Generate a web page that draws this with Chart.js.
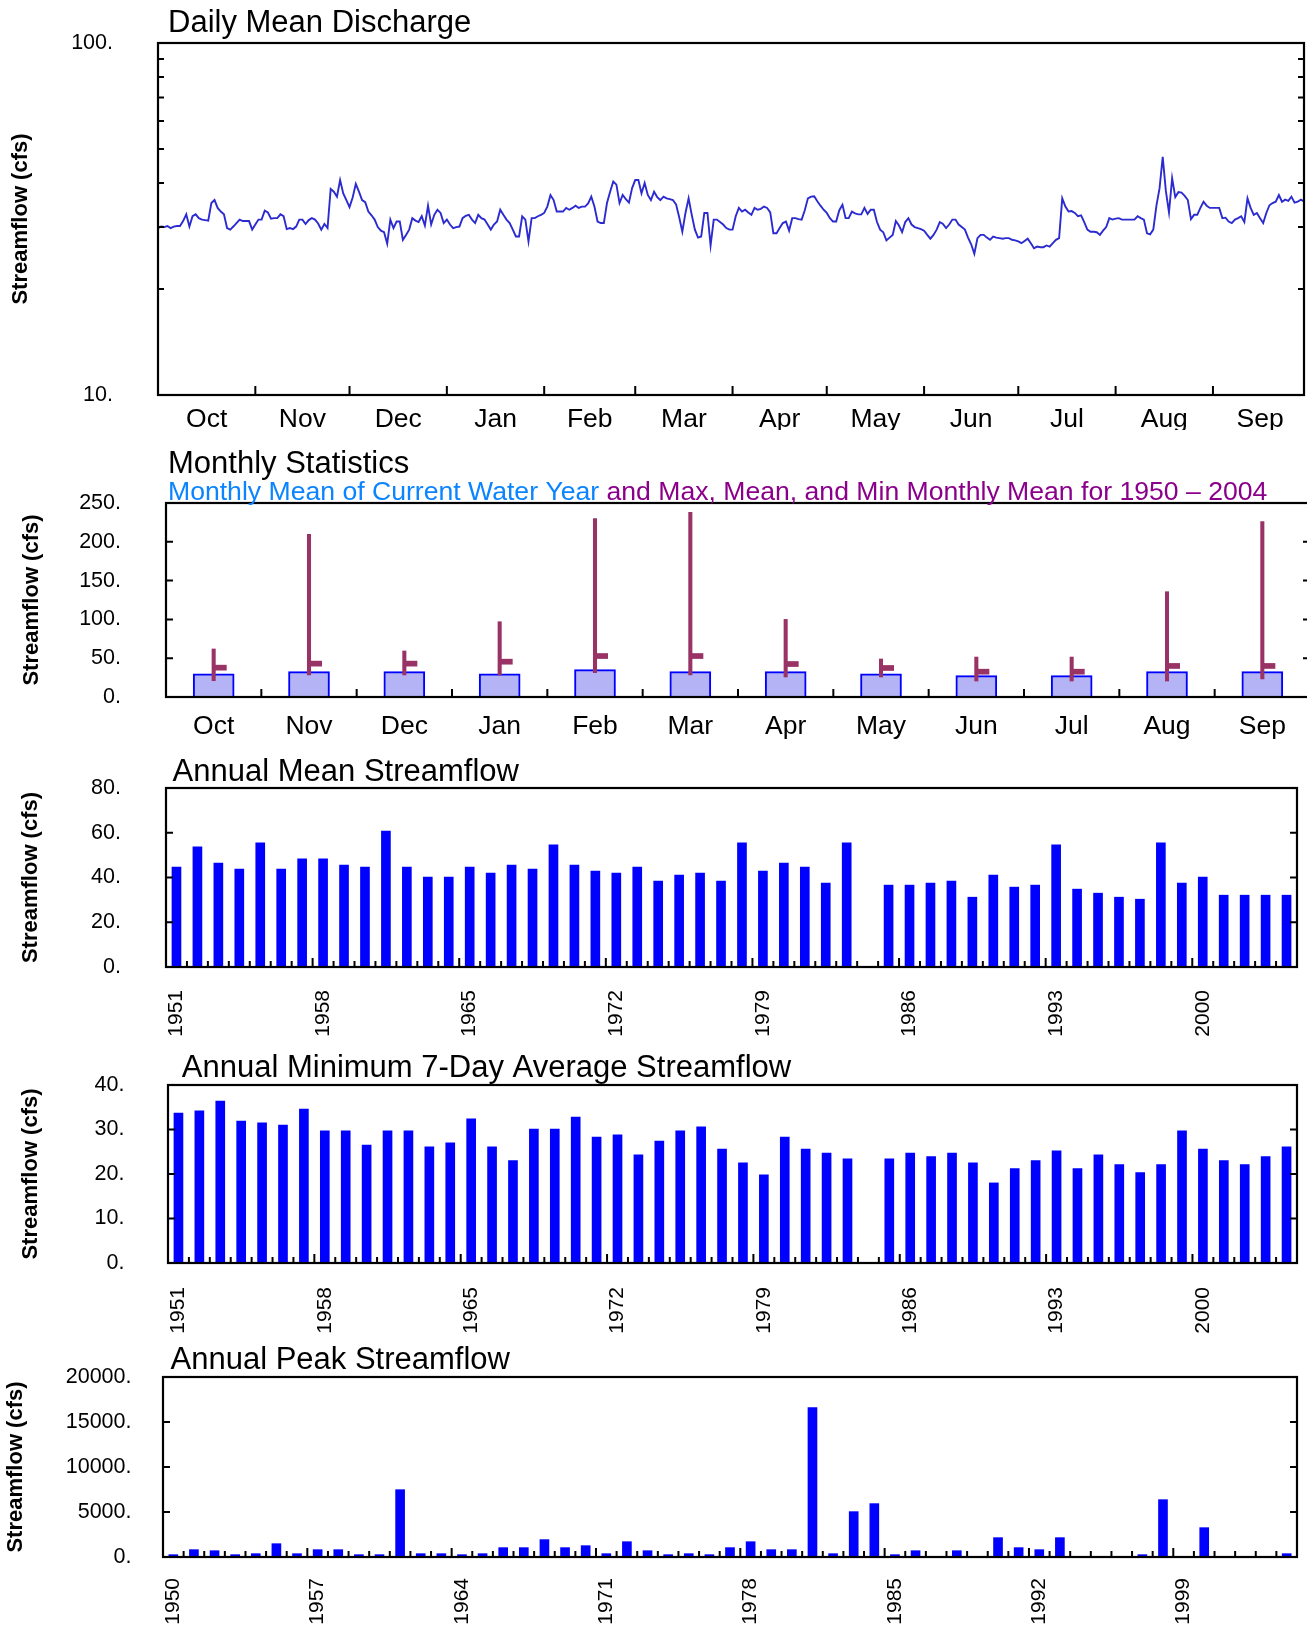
<!DOCTYPE html>
<html>
<head>
<meta charset="utf-8">
<script src="https://cdn.jsdelivr.net/npm/chart.js@4.4.1/dist/chart.umd.min.js"></script>
<style>
html, body { margin: 0; padding: 0; background: #ffffff; overflow: hidden; width: 1307px; height: 1626px; }
canvas { position: absolute; left: 0; }
</style>
</head>
<body>
<canvas id="c1" width="1307" height="430" style="top:0px"></canvas>
<canvas id="c2" width="1316" height="315" style="top:430px"></canvas>
<canvas id="c3" width="1307" height="295" style="top:745px"></canvas>
<canvas id="c4" width="1307" height="295" style="top:1040px"></canvas>
<canvas id="c5" width="1307" height="291" style="top:1335px"></canvas>
<script>
// ---------------- DATA ----------------
const months = ['Oct','Nov','Dec','Jan','Feb','Mar','Apr','May','Jun','Jul','Aug','Sep'];
const monthDays = [31,30,31,31,29,31,30,31,30,31,31,30];

const dailyMajorTicks = [10, 100];
const dailyMinorTicks = [20, 30, 40, 50, 60, 70, 80, 90];
const dailyMeanFlow = [
  29.8, 30.1, 30.0, 30.2, 29.8, 30.1, 30.2, 30.2, 31.2, 32.6,
  30.1, 32.2, 32.6, 31.8, 31.5, 31.4, 31.3, 35.1, 35.8, 34.0,
  33.2, 32.6, 29.8, 29.5, 30.1, 30.8, 31.5, 31.2, 31.2, 31.2,
  29.5, 30.5, 31.5, 31.5, 33.4, 33.0, 31.7, 31.8, 31.8, 32.6,
  32.2, 29.6, 29.8, 29.6, 30.1, 31.5, 31.5, 30.6, 31.4, 31.8,
  31.5, 30.7, 29.5, 30.6, 29.8, 38.5, 37.8, 36.6, 40.8, 37.4,
  35.8, 34.2, 36.4, 39.8, 37.8, 35.8, 35.3, 33.2, 32.4, 31.5,
  30.0, 29.3, 29.0, 26.9, 31.5, 29.8, 31.1, 31.1, 27.6, 28.5,
  29.5, 31.8, 31.3, 31.0, 32.2, 30.3, 34.5, 30.5, 32.5, 33.6,
  32.9, 30.8, 31.5, 30.5, 29.8, 30.0, 30.1, 31.8, 32.3, 32.5,
  31.5, 30.8, 32.5, 31.8, 31.5, 30.5, 29.5, 30.5, 31.1, 33.6,
  32.5, 31.5, 30.8, 29.5, 28.2, 28.2, 32.2, 31.5, 27.3, 31.8,
  31.8, 32.2, 32.5, 32.9, 34.3, 37.0, 35.8, 33.2, 33.2, 33.2,
  34.0, 33.6, 34.0, 34.5, 34.0, 34.3, 34.3, 35.0, 36.6, 34.3,
  31.1, 30.8, 30.8, 35.1, 37.8, 40.4, 39.6, 35.1, 37.0, 36.0,
  35.2, 38.7, 40.8, 40.8, 37.4, 40.0, 37.0, 35.8, 37.8, 36.5,
  35.8, 36.6, 36.2, 36.0, 35.8, 34.8, 32.0, 29.1, 32.9, 36.2,
  32.5, 29.5, 28.0, 28.2, 32.9, 32.9, 26.6, 31.5, 31.5, 31.0,
  30.5, 29.8, 29.5, 29.5, 32.2, 34.0, 33.2, 33.6, 33.0, 32.5,
  34.0, 33.6, 33.8, 34.3, 34.0, 33.0, 28.8, 28.8, 29.8, 30.8,
  31.1, 29.3, 31.8, 31.8, 31.6, 31.5, 33.5, 36.2, 36.6, 36.7,
  35.5, 34.5, 33.6, 32.9, 31.8, 31.1, 31.1, 33.5, 34.7, 31.8,
  31.8, 33.2, 32.8, 32.6, 32.6, 34.0, 32.7, 33.6, 33.6, 31.0,
  29.5, 29.0, 27.5, 28.0, 28.5, 31.2, 30.3, 29.0, 31.0, 31.8,
  30.5, 30.0, 29.8, 29.6, 29.3, 28.5, 27.8, 28.5, 29.5, 31.0,
  30.6, 29.8, 30.5, 31.5, 31.5, 30.5, 30.0, 29.5, 28.0, 26.8,
  25.2, 27.9, 28.5, 28.5, 28.0, 27.6, 28.2, 28.0, 27.9, 27.8,
  27.9, 27.9, 27.6, 27.5, 27.3, 27.0, 27.4, 27.8, 27.0, 26.1,
  26.4, 26.3, 26.3, 26.6, 26.4, 27.0, 27.6, 27.9, 36.2, 34.3,
  33.2, 33.3, 32.9, 32.2, 32.4, 31.0, 29.5, 29.1, 29.1, 29.0,
  28.5, 29.3, 30.0, 31.8, 31.5, 31.7, 31.8, 31.5, 31.5, 31.5,
  31.5, 31.5, 32.2, 31.8, 31.5, 28.8, 28.6, 29.5, 34.5, 38.7,
  47.5, 38.0, 33.0, 41.3, 36.5, 37.7, 37.6, 36.8, 35.8, 31.6,
  32.5, 32.5, 34.0, 35.4, 34.5, 34.0, 34.0, 34.0, 34.0, 31.8,
  31.9, 31.1, 30.8, 31.5, 31.8, 32.2, 31.0, 36.2, 34.0, 32.5,
  32.9, 31.8, 30.8, 32.9, 34.6, 35.1, 35.4, 37.0, 35.4, 35.9,
  35.6, 36.6, 35.2, 35.4, 35.9, 35.5
];

const monthlyCurrent = [30.0, 32.6, 32.6, 30.0, 35.2, 32.6, 32.6, 30.0, 27.5, 27.5, 32.6, 32.6];
const monthlyMax     = [61.9, 209.7, 59.3, 97.0, 230.0, 238.0, 100.0, 49.0, 51.5, 51.5, 135.7, 226.0];
const monthlyMean    = [37.8, 43.0, 43.0, 45.5, 52.8, 52.8, 42.5, 37.4, 32.6, 32.6, 40.0, 40.0];
const monthlyMin     = [21.0, 28.4, 28.4, 28.4, 31.3, 28.4, 25.8, 25.8, 20.6, 20.6, 20.6, 23.2];
const monthlyTickValues = [50, 100, 150, 200];

const annualYears = ['1951','1952','1953','1954','1955','1956','1957','1958','1959','1960',
  '1961','1962','1963','1964','1965','1966','1967','1968','1969','1970',
  '1971','1972','1973','1974','1975','1976','1977','1978','1979','1980',
  '1981','1982','1983','1984','1985','1986','1987','1988','1989','1990',
  '1991','1992','1993','1994','1995','1996','1997','1998','1999','2000',
  '2001','2002','2003','2004'];
const annualTickYears = ['1951','1958','1965','1972','1979','1986','1993','2000'];
const annualMean = [44.7, 53.7, 46.5, 43.8, 55.5, 43.8, 48.3, 48.3, 45.6, 44.7,
  60.8, 44.7, 40.2, 40.2, 44.7, 42.0, 45.6, 43.8, 54.6, 45.6,
  42.9, 42.0, 44.7, 38.4, 41.1, 42.0, 38.4, 55.5, 42.9, 46.5,
  44.7, 37.5, 55.5, null, 36.6, 36.6, 37.5, 38.4, 31.2, 41.1,
  35.7, 36.6, 54.6, 34.8, 33.0, 31.2, 30.3, 55.5, 37.5, 40.2,
  32.1, 32.1, 32.1, 32.1];
const min7Day = [33.7, 34.2, 36.4, 31.9, 31.5, 31.0, 34.6, 29.7, 29.7, 26.5,
  29.7, 29.7, 26.1, 27.0, 32.4, 26.1, 23.0, 30.1, 30.1, 32.8,
  28.3, 28.8, 24.3, 27.4, 29.7, 30.6, 25.6, 22.5, 19.8, 28.3,
  25.6, 24.7, 23.4, null, 23.4, 24.7, 23.9, 24.7, 22.5, 18.0,
  21.2, 23.0, 25.2, 21.2, 24.3, 22.1, 20.3, 22.1, 29.7, 25.6,
  23.0, 22.1, 23.9, 26.1];

const peakYears = ['1950','1951','1952','1953','1954','1955','1956','1957','1958','1959',
  '1960','1961','1962','1963','1964','1965','1966','1967','1968','1969',
  '1970','1971','1972','1973','1974','1975','1976','1977','1978','1979',
  '1980','1981','1982','1983','1984','1985','1986','1987','1988','1989',
  '1990','1991','1992','1993','1994','1995','1996','1997','1998','1999',
  '2000','2001','2002','2003','2004'];
const peakTickYears = ['1950','1957','1964','1971','1978','1985','1992','1999'];
const peakFlow = [260, 815, 700, 260, 370, 1480, 370, 815, 815, 260,
  260, 7480, 370, 370, 260, 370, 1040, 1040, 1930, 1040,
  1260, 370, 1700, 700, 260, 370, 260, 1040, 1700, 815,
  815, 16600, 370, 5040, 5930, 260, 700, null, 700, null,
  2150, 1040, 815, 2150, null, null, null, 260, 6370, null,
  3260, null, null, null, 370];

// ---------------- HELPERS ----------------
const FONT = "'Liberation Sans', Arial, Helvetica, sans-serif";
Chart.defaults.font.family = FONT;
Chart.defaults.color = '#000';

// cumulative month boundaries & mid points (day index)
const monthEdges = [];
const monthMid = [];
{ let acc = 0; monthDays.forEach((d, i) => { monthMid.push(acc + d / 2); acc += d; if (i < monthDays.length - 1) monthEdges.push(acc); }); }

const framePlugin = {
  id: 'frame',
  afterDatasetsDraw(chart, args, o) {
    const ctx = chart.ctx, a = chart.chartArea, xs = chart.scales.x, ys = chart.scales.y;
    ctx.save();
    if (o.flags) {
      ctx.fillStyle = o.flags.color;
      o.flags.values.forEach((v, i) => {
        const px = xs.getPixelForValue(i), py = ys.getPixelForValue(v);
        ctx.fillRect(px, py - o.flags.h / 2, o.flags.w, o.flags.h);
      });
    }
    ctx.strokeStyle = '#000';
    ctx.lineWidth = 2;
    ctx.beginPath();
    (o.yTicks || []).forEach(v => {
      const py = ys.getPixelForValue(v);
      ctx.moveTo(a.left, py); ctx.lineTo(a.left + o.yLen, py);
      ctx.moveTo(a.right, py); ctx.lineTo(a.right - o.yLen, py);
    });
    (o.xTicks || []).forEach(t => {
      const px = xs.getPixelForValue(t.v);
      ctx.moveTo(px, a.bottom); ctx.lineTo(px, a.bottom - t.len);
    });
    ctx.stroke();
    ctx.lineWidth = 2.2;
    ctx.strokeRect(a.left, a.top, a.right - a.left, a.bottom - a.top);
    if (o.title) {
      ctx.fillStyle = '#000';
      ctx.font = o.title.size + 'px ' + FONT;
      ctx.textBaseline = 'alphabetic';
      ctx.textAlign = 'left';
      ctx.fillText(o.title.text, o.title.x, o.title.y);
    }
    if (o.subtitle) {
      ctx.font = o.subtitle.size + 'px ' + FONT;
      ctx.textBaseline = 'alphabetic';
      ctx.textAlign = 'left';
      let x = o.subtitle.x;
      o.subtitle.parts.forEach(p => {
        ctx.fillStyle = p.color;
        ctx.fillText(p.text, x, o.subtitle.y);
        x += ctx.measureText(p.text + ' ').width;
      });
    }
    ctx.restore();
  }
};

function yTitle(pad) {
  return { display: true, text: 'Streamflow (cfs)', color: '#000',
           font: { family: FONT, size: 22, weight: 'bold' }, padding: { top: pad, bottom: 0 } };
}
function fixY(w) {
  return s => { s.width = w; s.paddingTop = 0; s.paddingBottom = 0; };
}
function fixX(h) {
  return s => { s.height = h; s.paddingLeft = 0; s.paddingRight = 0; };
}
const noGrid = { display: false, drawTicks: false };
const noBorder = { display: false };
const base = { responsive: false, animation: false, devicePixelRatio: 1, maintainAspectRatio: false };

function yearTicks(list, ticked) {
  const out = [];
  for (let i = 1; i < list.length; i++) {
    out.push({ v: i - 0.5, len: ticked.includes(list[i]) ? 9 : 6 });
  }
  return out;
}

// ---------------- PANEL 1: Daily Mean Discharge ----------------
new Chart(document.getElementById('c1'), {
  type: 'line',
  data: { datasets: [{
    data: dailyMeanFlow.map((v, i) => ({ x: i, y: v })),
    borderColor: '#2b2bd0', borderWidth: 1.9, pointRadius: 0, tension: 0, fill: false
  }] },
  options: Object.assign({}, base, {
    layout: { padding: { left: 0, right: 3, top: 43, bottom: 0 } },
    plugins: {
      legend: { display: false }, tooltip: { enabled: false },
      frame: {
        yTicks: dailyMinorTicks, yLen: 6,
        xTicks: monthEdges.map(v => ({ v: v, len: 9 })),
        title: { text: 'Daily Mean Discharge', x: 168, y: 32, size: 31 }
      }
    },
    scales: {
      x: {
        type: 'linear', min: 0, max: 365,
        afterBuildTicks: s => { s.ticks = monthMid.map(v => ({ value: v })); },
        afterFit: fixX(35),
        grid: noGrid, border: noBorder,
        ticks: { autoSkip: false, maxRotation: 0, minRotation: 0, padding: 8.5, color: '#000',
                 font: { size: 26.5 }, callback: (v, i) => months[i] }
      },
      y: {
        type: 'logarithmic', min: 10, max: 100,
        afterBuildTicks: s => { s.ticks = dailyMajorTicks.map(v => ({ value: v })); },
        afterFit: fixY(158),
        grid: noGrid, border: noBorder,
        ticks: { padding: 45, color: '#000', font: { size: 21.5 }, callback: v => v + '.' },
        title: yTitle(7.8)
      }
    }
  }),
  plugins: [framePlugin]
});

// ---------------- PANEL 2: Monthly Statistics ----------------
new Chart(document.getElementById('c2'), {
  type: 'bar',
  data: {
    labels: months,
    datasets: [
      { data: monthlyMin.map((v, i) => [v, monthlyMax[i]]), backgroundColor: '#993366',
        borderWidth: 0, barThickness: 3.4, grouped: false, order: 0 },
      { data: monthlyCurrent, backgroundColor: '#b3b3f5', borderColor: '#0000ff',
        borderWidth: 2, barThickness: 41, grouped: false, order: 1 }
    ]
  },
  options: Object.assign({}, base, {
    layout: { padding: { left: 0, right: 6, top: 73, bottom: 0 } },
    plugins: {
      legend: { display: false }, tooltip: { enabled: false },
      frame: {
        yTicks: monthlyTickValues, yLen: 7,
        xTicks: months.slice(1).map((m, i) => ({ v: i + 0.5, len: 8 })),
        flags: { values: monthlyMean, color: '#993366', w: 13, h: 5.7 },
        title: { text: 'Monthly Statistics', x: 168, y: 43, size: 31 },
        subtitle: { x: 168, y: 70, size: 26.6, parts: [
          { text: 'Monthly Mean of Current Water Year', color: '#0a84ff' },
          { text: 'and Max, Mean, and Min Monthly Mean for 1950 \u2013 2004', color: '#8b008b' }
        ] }
      }
    },
    scales: {
      x: {
        type: 'category', offset: true,
        afterFit: fixX(48),
        grid: noGrid, border: noBorder,
        ticks: { autoSkip: false, maxRotation: 0, minRotation: 0, padding: 14, color: '#000', font: { size: 26.5 } }
      },
      y: {
        min: 0, max: 250,
        afterFit: fixY(166),
        grid: noGrid, border: noBorder,
        ticks: { stepSize: 50, padding: 45, color: '#000', font: { size: 21.5 }, callback: v => v + '.' },
        title: yTitle(18.8)
      }
    }
  }),
  plugins: [framePlugin]
});

// ---------------- bar panels ----------------
function barPanel(id, years, ticked, values, yMax, yStep, yInner, opts) {
  return new Chart(document.getElementById(id), {
    type: 'bar',
    data: { labels: years, datasets: [{ data: values, backgroundColor: '#0000ff', borderWidth: 0, barThickness: 9 }] },
    options: Object.assign({}, base, {
      layout: { padding: { left: 0, right: 10, top: opts.top, bottom: 0 } },
      plugins: {
        legend: { display: false }, tooltip: { enabled: false },
        frame: {
          yTicks: yInner, yLen: 7,
          xTicks: yearTicks(years, ticked),
          title: { text: opts.title, x: opts.titleX, y: opts.titleY, size: 31 }
        }
      },
      scales: {
        x: {
          type: 'category', offset: true,
          afterFit: fixX(opts.xH),
          grid: noGrid, border: noBorder,
          ticks: { autoSkip: false, maxRotation: 90, minRotation: 90, padding: opts.labelPad, color: '#000',
                   font: { size: 21 }, callback: (v, i) => (ticked.includes(years[i]) ? years[i] : '') }
        },
        y: {
          min: 0, max: yMax,
          afterFit: fixY(opts.left),
          grid: noGrid, border: noBorder,
          ticks: { stepSize: yStep, padding: opts.yPad, color: '#000', font: { size: 21.5 }, callback: v => v + '.' },
          title: yTitle(opts.titlePad)
        }
      }
    }),
    plugins: [framePlugin]
  });
}

barPanel('c3', annualYears, annualTickYears, annualMean, 80, 20, [20, 40, 60],
  { top: 43, xH: 73, left: 166, yPad: 45, titlePad: 17.3, labelPad: 23,
    title: 'Annual Mean Streamflow', titleX: 172.6, titleY: 35.7 });

barPanel('c4', annualYears, annualTickYears, min7Day, 40, 10, [10, 20, 30],
  { top: 45, xH: 72, left: 168, yPad: 43.5, titlePad: 17.8, labelPad: 24,
    title: 'Annual Minimum 7-Day Average Streamflow', titleX: 181.8, titleY: 37 });

barPanel('c5', peakYears, peakTickYears, peakFlow, 20000, 5000, [5000, 10000, 15000],
  { top: 42, xH: 69, left: 163, yPad: 31.5, titlePad: 2.3, labelPad: 21,
    title: 'Annual Peak Streamflow', titleX: 170.5, titleY: 34 });
</script>
</body>
</html>
